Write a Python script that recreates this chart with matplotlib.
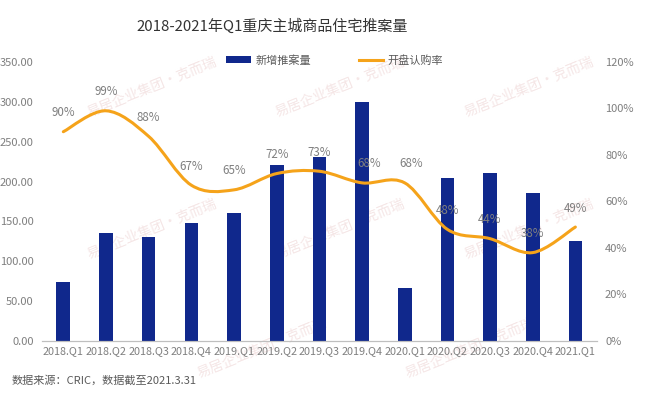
import matplotlib
matplotlib.use("Agg")
import matplotlib.pyplot as plt
from matplotlib.path import Path
from matplotlib.patches import PathPatch, Patch
from matplotlib.lines import Line2D
import numpy as np

plt.rcParams['font.family'] = ['Noto Sans CJK SC', 'DejaVu Sans']

# ---------------- data ----------------
quarters = ['2018.Q1', '2018.Q2', '2018.Q3', '2018.Q4', '2019.Q1', '2019.Q2', '2019.Q3',
            '2019.Q4', '2020.Q1', '2020.Q2', '2020.Q3', '2020.Q4', '2021.Q1']
new_supply = [74, 136, 130, 148, 161, 221, 231, 300, 67, 205, 211, 186, 126]
sub_rate = [90, 99, 88, 67, 65, 72, 73, 68, 68, 48, 44, 38, 49]

bar_color = '#10288c'
line_color = '#f5a31a'
text_gray = '#7f7f7f'

fig = plt.figure(figsize=(6.5, 3.96), dpi=100)

# faint watermarks (behind everything)
for wx, wy in [(0.13, 0.78), (0.42, 0.78), (0.71, 0.78), (0.13, 0.42), (0.42, 0.42),
               (0.71, 0.42), (0.30, 0.12), (0.62, 0.12)]:
    fig.text(wx, wy, '易居企业集团·克而瑞', fontsize=10, color='#f5e6e6',
             rotation=22, ha='left', va='center', zorder=-1)

ax = fig.add_axes([0.0646, 0.139, 0.8534, 0.7045])
ax.patch.set_alpha(0)
ax2 = ax.twinx()

x = np.arange(len(quarters))
ax.bar(x, new_supply, width=0.32, color=bar_color, zorder=2)

# smooth line through the points (Catmull-Rom -> cubic bezier)
pts = list(zip(x, sub_rate))
verts = [pts[0]]
codes = [Path.MOVETO]
for i in range(len(pts) - 1):
    p0 = pts[i - 1] if i > 0 else pts[i]
    p1 = pts[i]
    p2 = pts[i + 1]
    p3 = pts[i + 2] if i + 2 < len(pts) else pts[i + 1]
    c1 = (p1[0] + (p2[0] - p0[0]) / 6, p1[1] + (p2[1] - p0[1]) / 6)
    c2 = (p2[0] - (p3[0] - p1[0]) / 6, p2[1] - (p3[1] - p1[1]) / 6)
    verts += [c1, c2, p2]
    codes += [Path.CURVE4] * 3
ax2.add_patch(PathPatch(Path(verts, codes), fill=False, edgecolor=line_color, lw=2.2,
                        capstyle='round', joinstyle='round', zorder=3))

for i, v in enumerate(sub_rate):
    dx = 5 if quarters[i] in ('2019.Q4', '2020.Q1') else 0
    ax2.annotate(f'{v}%', (i, v), xytext=(dx, 9), textcoords='offset points',
                 ha='center', va='bottom', fontsize=8.3, color=text_gray, zorder=4)

ax.set_xlim(-0.5, len(quarters) - 0.5)
ax.set_ylim(0, 350)
ax2.set_ylim(0, 120)
ax.set_yticks(np.arange(0, 351, 50))
ax.set_yticklabels([f'{v:.2f}' for v in np.arange(0, 351, 50)])
ax2.set_yticks(np.arange(0, 121, 20))
ax2.set_yticklabels([f'{v}%' for v in range(0, 121, 20)])
ax.set_xticks(x)
ax.set_xticklabels(quarters)

for a in (ax, ax2):
    for s in ('top', 'left', 'right'):
        a.spines[s].set_visible(False)
    a.spines['bottom'].set_color('#bfbfbf')
    a.tick_params(length=0, labelsize=8, labelcolor=text_gray)
ax.tick_params(axis='y', pad=6)
ax2.tick_params(axis='y', pad=6)
ax.tick_params(axis='x', pad=4, labelsize=7.8)

handles = [Patch(facecolor=bar_color, label='新增推案量'),
           Line2D([0], [0], color=line_color, lw=2.2, label='开盘认购率')]
fig.legend(handles=handles, loc='center', bbox_to_anchor=(0.515, 0.848), ncol=2,
           frameon=False, fontsize=8, labelcolor='#595959', columnspacing=4.3,
           handlelength=2.2, handleheight=0.6, handletextpad=0.4)

fig.text(0.418, 0.935, '2018-2021年Q1重庆主城商品住宅推案量', ha='center', va='center',
         fontsize=10.8, color='#333333', fontweight='medium')
fig.text(0.018, 0.04, '数据来源：CRIC，数据截至2021.3.31', ha='left', va='center',
         fontsize=8, color='#595959')

fig.savefig('out.png', dpi=100)
